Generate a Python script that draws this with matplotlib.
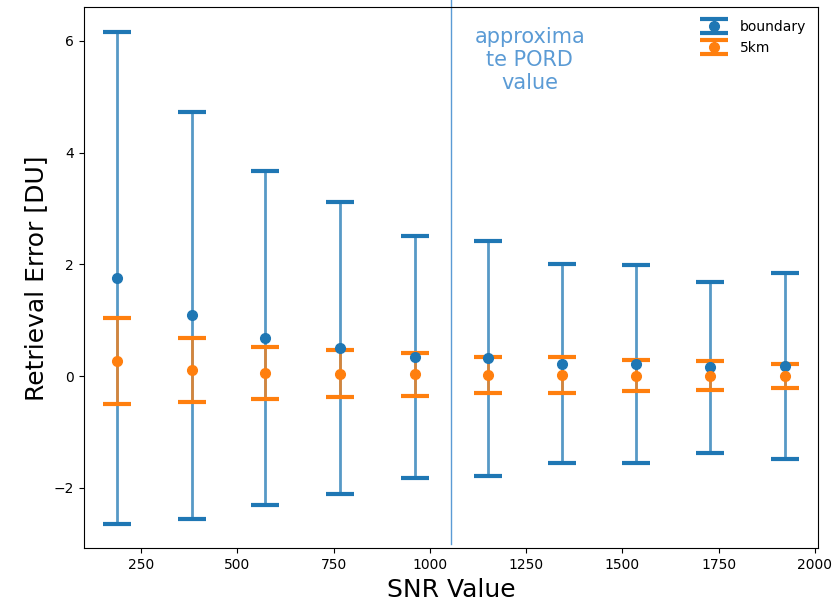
import numpy as np
import matplotlib
matplotlib.use("Agg")
import matplotlib.pyplot as plt

# SNR values of the runs
snr = [188, 382, 572, 766, 960, 1151, 1344, 1534, 1727, 1922]

# retrieval error mean and std, boundary layer
bnd_mean = [1.76, 1.09, 0.68, 0.50, 0.34, 0.32, 0.225, 0.22, 0.16, 0.19]
bnd_std = [4.40, 3.645, 2.985, 2.61, 2.17, 2.105, 1.78, 1.765, 1.53, 1.665]

# retrieval error mean and std, 5km
km5_mean = [0.27, 0.11, 0.055, 0.045, 0.035, 0.025, 0.025, 0.01, 0.01, 0.0]
km5_std = [0.775, 0.57, 0.465, 0.425, 0.385, 0.325, 0.325, 0.28, 0.26, 0.22]

pord_snr = 1055

fig = plt.figure(figsize=(8.33, 6.04), dpi=100)
ax = fig.add_axes([0.1008, 0.0922, 0.8816, 0.8957])

for mean, std, lab in [(bnd_mean, bnd_std, "boundary"), (km5_mean, km5_std, "5km")]:
    eb = ax.errorbar(snr, mean, yerr=std, fmt='o', markersize=7,
                     elinewidth=2, capsize=10, capthick=3, label=lab)
    # lighter bar lines, solid caps
    eb[2][0].set_alpha(0.75)

ax.axvline(pord_snr, ymin=0.008, ymax=1.015, color='#5b9bd5', linewidth=1, clip_on=False)
ax.text(1259, 5.66, "approxima\nte PORD\nvalue", color='#5b9bd5', fontsize=15,
        ha='center', va='center', multialignment='center')

ax.set_xlabel("SNR Value", fontsize=18)
ax.set_ylabel("Retrieval Error [DU]", fontsize=18)
ax.legend(loc='upper right', frameon=False)

fig.savefig("out.png", dpi=100)
